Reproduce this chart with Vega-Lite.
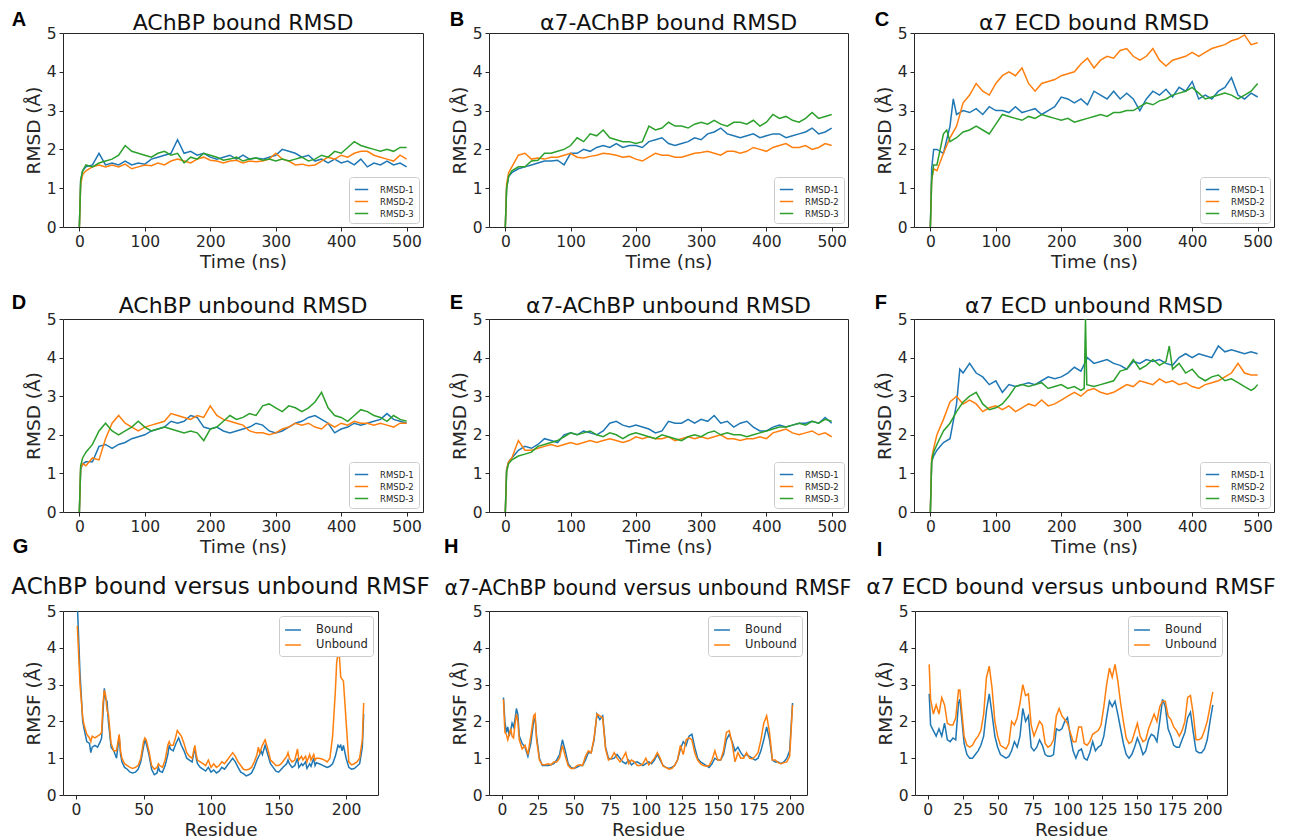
{
"$schema":"https://vega.github.io/schema/vega-lite/v6.json",
"padding":{"left":10,"top":9,"right":0,"bottom":0},
"background":"white",
"config":{
 "font":"DejaVu Sans",
 "view":{"stroke":"#262626","strokeWidth":1},
 "axis":{"domain":false,"grid":false,"ticks":true,"tickSize":4,"tickColor":"#262626","tickWidth":1,"labelFontSize":15.5,"labelColor":"#262626","labelPadding":3,"titleFontSize":18.5,"titleFontWeight":"normal","titleColor":"#262626","titlePadding":3,"labelOverlap":false,"labelFlush":false},
 "title":{"fontSize":22,"fontWeight":"normal","color":"#111111","frame":"group"},
 "legend":{"orient":"bottom-right","offset":4,"labelFontSize":8.5,"labelColor":"#262626","symbolSize":180,"symbolStrokeWidth":1.5,"symbolType":"stroke","padding":5,"rowPadding":0,"labelOffset":11,"strokeColor":"#cccccc","fillColor":"white","cornerRadius":3},
 "line":{"strokeWidth":1.5}
},
"datasets":{
"A1":[{"t":0,"v":0},{"t":2,"v":1.2},{"t":5,"v":1.45},{"t":10,"v":1.55},{"t":20,"v":1.6},{"t":30,"v":1.9},{"t":40,"v":1.6},{"t":50,"v":1.65},{"t":60,"v":1.6},{"t":70,"v":1.7},{"t":80,"v":1.6},{"t":90,"v":1.65},{"t":100,"v":1.62},{"t":110,"v":1.75},{"t":120,"v":1.8},{"t":130,"v":1.85},{"t":140,"v":1.9},{"t":150,"v":2.25},{"t":160,"v":1.9},{"t":170,"v":1.95},{"t":180,"v":1.85},{"t":190,"v":1.9},{"t":200,"v":1.8},{"t":210,"v":1.75},{"t":220,"v":1.8},{"t":230,"v":1.85},{"t":240,"v":1.75},{"t":250,"v":1.85},{"t":260,"v":1.75},{"t":270,"v":1.78},{"t":280,"v":1.75},{"t":290,"v":1.8},{"t":300,"v":1.85},{"t":310,"v":2.0},{"t":320,"v":1.95},{"t":330,"v":1.9},{"t":340,"v":1.8},{"t":350,"v":1.85},{"t":360,"v":1.7},{"t":370,"v":1.75},{"t":380,"v":1.65},{"t":390,"v":1.75},{"t":400,"v":1.65},{"t":410,"v":1.7},{"t":420,"v":1.6},{"t":430,"v":1.75},{"t":440,"v":1.55},{"t":450,"v":1.65},{"t":460,"v":1.6},{"t":470,"v":1.7},{"t":480,"v":1.6},{"t":490,"v":1.65},{"t":500,"v":1.55}],
"A2":[{"t":0,"v":0},{"t":2,"v":1.1},{"t":5,"v":1.35},{"t":10,"v":1.45},{"t":20,"v":1.55},{"t":30,"v":1.6},{"t":40,"v":1.55},{"t":50,"v":1.6},{"t":60,"v":1.55},{"t":70,"v":1.62},{"t":80,"v":1.5},{"t":90,"v":1.55},{"t":100,"v":1.6},{"t":110,"v":1.58},{"t":120,"v":1.65},{"t":130,"v":1.6},{"t":140,"v":1.7},{"t":150,"v":1.75},{"t":160,"v":1.7},{"t":170,"v":1.65},{"t":180,"v":1.75},{"t":190,"v":1.8},{"t":200,"v":1.72},{"t":210,"v":1.7},{"t":220,"v":1.65},{"t":230,"v":1.7},{"t":240,"v":1.72},{"t":250,"v":1.65},{"t":260,"v":1.7},{"t":270,"v":1.68},{"t":280,"v":1.7},{"t":290,"v":1.75},{"t":300,"v":1.9},{"t":310,"v":1.75},{"t":320,"v":1.7},{"t":330,"v":1.6},{"t":340,"v":1.62},{"t":350,"v":1.58},{"t":360,"v":1.6},{"t":370,"v":1.7},{"t":380,"v":1.8},{"t":390,"v":1.75},{"t":400,"v":1.85},{"t":410,"v":1.8},{"t":420,"v":1.9},{"t":430,"v":1.95},{"t":440,"v":1.95},{"t":450,"v":1.85},{"t":460,"v":1.8},{"t":470,"v":1.75},{"t":480,"v":1.7},{"t":490,"v":1.85},{"t":500,"v":1.75}],
"A3":[{"t":0,"v":0},{"t":2,"v":1.2},{"t":5,"v":1.45},{"t":10,"v":1.6},{"t":20,"v":1.55},{"t":30,"v":1.65},{"t":40,"v":1.7},{"t":50,"v":1.75},{"t":60,"v":1.85},{"t":70,"v":2.1},{"t":80,"v":1.95},{"t":90,"v":1.9},{"t":100,"v":1.85},{"t":110,"v":1.8},{"t":120,"v":1.9},{"t":130,"v":1.95},{"t":140,"v":1.85},{"t":150,"v":1.9},{"t":160,"v":1.65},{"t":170,"v":1.8},{"t":180,"v":1.75},{"t":190,"v":1.9},{"t":200,"v":1.85},{"t":210,"v":1.8},{"t":220,"v":1.72},{"t":230,"v":1.75},{"t":240,"v":1.8},{"t":250,"v":1.7},{"t":260,"v":1.75},{"t":270,"v":1.78},{"t":280,"v":1.72},{"t":290,"v":1.75},{"t":300,"v":1.7},{"t":310,"v":1.75},{"t":320,"v":1.7},{"t":330,"v":1.75},{"t":340,"v":1.8},{"t":350,"v":1.7},{"t":360,"v":1.75},{"t":370,"v":1.85},{"t":380,"v":1.8},{"t":390,"v":1.95},{"t":400,"v":1.9},{"t":410,"v":2.05},{"t":420,"v":2.2},{"t":430,"v":2.1},{"t":440,"v":2.05},{"t":450,"v":2.0},{"t":460,"v":1.95},{"t":470,"v":2.0},{"t":480,"v":1.95},{"t":490,"v":2.05},{"t":500,"v":2.05}],
"B1":[{"t":0,"v":0},{"t":2,"v":1.0},{"t":5,"v":1.3},{"t":10,"v":1.4},{"t":20,"v":1.5},{"t":30,"v":1.55},{"t":40,"v":1.6},{"t":50,"v":1.65},{"t":60,"v":1.7},{"t":70,"v":1.7},{"t":80,"v":1.72},{"t":90,"v":1.6},{"t":100,"v":1.9},{"t":110,"v":1.9},{"t":120,"v":2.0},{"t":130,"v":1.95},{"t":140,"v":2.05},{"t":150,"v":2.1},{"t":160,"v":2.05},{"t":170,"v":2.15},{"t":180,"v":2.05},{"t":190,"v":2.1},{"t":200,"v":2.1},{"t":210,"v":2.05},{"t":220,"v":2.2},{"t":230,"v":2.25},{"t":240,"v":2.3},{"t":250,"v":2.15},{"t":260,"v":2.1},{"t":270,"v":2.15},{"t":280,"v":2.2},{"t":290,"v":2.3},{"t":300,"v":2.25},{"t":310,"v":2.4},{"t":320,"v":2.45},{"t":330,"v":2.55},{"t":340,"v":2.4},{"t":350,"v":2.35},{"t":360,"v":2.3},{"t":370,"v":2.35},{"t":380,"v":2.4},{"t":390,"v":2.3},{"t":400,"v":2.35},{"t":410,"v":2.4},{"t":420,"v":2.4},{"t":430,"v":2.3},{"t":440,"v":2.35},{"t":450,"v":2.4},{"t":460,"v":2.45},{"t":470,"v":2.55},{"t":480,"v":2.4},{"t":490,"v":2.45},{"t":500,"v":2.55}],
"B2":[{"t":0,"v":0},{"t":2,"v":1.1},{"t":5,"v":1.4},{"t":10,"v":1.55},{"t":20,"v":1.85},{"t":30,"v":1.9},{"t":40,"v":1.75},{"t":50,"v":1.78},{"t":60,"v":1.75},{"t":70,"v":1.8},{"t":80,"v":1.8},{"t":90,"v":1.85},{"t":100,"v":1.9},{"t":110,"v":1.8},{"t":120,"v":1.78},{"t":130,"v":1.82},{"t":140,"v":1.85},{"t":150,"v":1.9},{"t":160,"v":1.88},{"t":170,"v":1.85},{"t":180,"v":1.8},{"t":190,"v":1.82},{"t":200,"v":1.75},{"t":210,"v":1.7},{"t":220,"v":1.8},{"t":230,"v":1.9},{"t":240,"v":1.85},{"t":250,"v":1.85},{"t":260,"v":1.8},{"t":270,"v":1.8},{"t":280,"v":1.85},{"t":290,"v":1.9},{"t":300,"v":1.92},{"t":310,"v":1.95},{"t":320,"v":1.9},{"t":330,"v":1.85},{"t":340,"v":1.95},{"t":350,"v":1.95},{"t":360,"v":1.9},{"t":370,"v":1.95},{"t":380,"v":2.05},{"t":390,"v":2.0},{"t":400,"v":1.95},{"t":410,"v":2.05},{"t":420,"v":2.1},{"t":430,"v":2.15},{"t":440,"v":2.05},{"t":450,"v":2.05},{"t":460,"v":2.1},{"t":470,"v":2.0},{"t":480,"v":2.05},{"t":490,"v":2.15},{"t":500,"v":2.1}],
"B3":[{"t":0,"v":0},{"t":2,"v":1.0},{"t":5,"v":1.3},{"t":10,"v":1.45},{"t":20,"v":1.55},{"t":30,"v":1.55},{"t":40,"v":1.7},{"t":50,"v":1.72},{"t":60,"v":1.9},{"t":70,"v":1.9},{"t":80,"v":1.95},{"t":90,"v":2.0},{"t":100,"v":2.1},{"t":110,"v":2.3},{"t":120,"v":2.2},{"t":130,"v":2.4},{"t":140,"v":2.35},{"t":150,"v":2.5},{"t":160,"v":2.3},{"t":170,"v":2.25},{"t":180,"v":2.2},{"t":190,"v":2.2},{"t":200,"v":2.15},{"t":210,"v":2.2},{"t":220,"v":2.6},{"t":230,"v":2.5},{"t":240,"v":2.55},{"t":250,"v":2.7},{"t":260,"v":2.6},{"t":270,"v":2.6},{"t":280,"v":2.55},{"t":290,"v":2.65},{"t":300,"v":2.7},{"t":310,"v":2.65},{"t":320,"v":2.75},{"t":330,"v":2.65},{"t":340,"v":2.6},{"t":350,"v":2.7},{"t":360,"v":2.7},{"t":370,"v":2.65},{"t":380,"v":2.75},{"t":390,"v":2.6},{"t":400,"v":2.7},{"t":410,"v":2.9},{"t":420,"v":2.8},{"t":430,"v":2.85},{"t":440,"v":2.75},{"t":450,"v":2.7},{"t":460,"v":2.8},{"t":470,"v":2.95},{"t":480,"v":2.8},{"t":490,"v":2.85},{"t":500,"v":2.9}],
"C1":[{"t":0,"v":0},{"t":2,"v":1.5},{"t":5,"v":2.0},{"t":10,"v":2.0},{"t":20,"v":1.9},{"t":30,"v":2.6},{"t":35,"v":3.3},{"t":40,"v":2.9},{"t":50,"v":3.0},{"t":60,"v":2.95},{"t":70,"v":3.05},{"t":80,"v":2.9},{"t":90,"v":3.1},{"t":100,"v":3.0},{"t":110,"v":3.0},{"t":120,"v":2.95},{"t":130,"v":3.1},{"t":140,"v":2.95},{"t":150,"v":3.0},{"t":160,"v":3.05},{"t":170,"v":2.9},{"t":180,"v":3.0},{"t":190,"v":3.1},{"t":200,"v":3.35},{"t":210,"v":3.3},{"t":220,"v":3.2},{"t":230,"v":3.3},{"t":240,"v":3.15},{"t":250,"v":3.5},{"t":260,"v":3.4},{"t":270,"v":3.3},{"t":280,"v":3.5},{"t":290,"v":3.3},{"t":300,"v":3.45},{"t":310,"v":3.3},{"t":320,"v":3.0},{"t":330,"v":3.3},{"t":340,"v":3.5},{"t":350,"v":3.4},{"t":360,"v":3.55},{"t":370,"v":3.35},{"t":380,"v":3.6},{"t":390,"v":3.5},{"t":400,"v":3.75},{"t":410,"v":3.3},{"t":420,"v":3.4},{"t":430,"v":3.3},{"t":440,"v":3.5},{"t":450,"v":3.6},{"t":460,"v":3.85},{"t":470,"v":3.4},{"t":480,"v":3.3},{"t":490,"v":3.45},{"t":500,"v":3.35}],
"C2":[{"t":0,"v":0},{"t":2,"v":1.2},{"t":5,"v":1.5},{"t":10,"v":1.45},{"t":20,"v":1.9},{"t":30,"v":2.3},{"t":40,"v":2.6},{"t":50,"v":3.2},{"t":60,"v":3.4},{"t":70,"v":3.7},{"t":80,"v":3.5},{"t":90,"v":3.4},{"t":100,"v":3.7},{"t":110,"v":3.9},{"t":120,"v":4.0},{"t":130,"v":3.9},{"t":140,"v":4.1},{"t":150,"v":3.7},{"t":160,"v":3.5},{"t":170,"v":3.7},{"t":180,"v":3.75},{"t":190,"v":3.8},{"t":200,"v":3.9},{"t":210,"v":3.95},{"t":220,"v":4.0},{"t":230,"v":4.2},{"t":240,"v":4.35},{"t":250,"v":4.1},{"t":260,"v":4.3},{"t":270,"v":4.4},{"t":280,"v":4.35},{"t":290,"v":4.55},{"t":300,"v":4.6},{"t":310,"v":4.4},{"t":320,"v":4.3},{"t":330,"v":4.4},{"t":340,"v":4.6},{"t":350,"v":4.3},{"t":360,"v":4.15},{"t":370,"v":4.3},{"t":380,"v":4.35},{"t":390,"v":4.4},{"t":400,"v":4.5},{"t":410,"v":4.4},{"t":420,"v":4.5},{"t":430,"v":4.6},{"t":440,"v":4.65},{"t":450,"v":4.7},{"t":460,"v":4.8},{"t":470,"v":4.85},{"t":480,"v":4.95},{"t":490,"v":4.7},{"t":500,"v":4.75}],
"C3":[{"t":0,"v":0},{"t":2,"v":1.2},{"t":5,"v":1.6},{"t":10,"v":1.6},{"t":20,"v":2.4},{"t":25,"v":2.5},{"t":30,"v":2.2},{"t":40,"v":2.3},{"t":50,"v":2.45},{"t":60,"v":2.5},{"t":70,"v":2.6},{"t":80,"v":2.5},{"t":90,"v":2.4},{"t":100,"v":2.65},{"t":110,"v":2.9},{"t":120,"v":2.85},{"t":130,"v":2.8},{"t":140,"v":2.75},{"t":150,"v":2.85},{"t":160,"v":2.8},{"t":170,"v":2.9},{"t":180,"v":2.85},{"t":190,"v":2.8},{"t":200,"v":2.75},{"t":210,"v":2.8},{"t":220,"v":2.7},{"t":230,"v":2.75},{"t":240,"v":2.8},{"t":250,"v":2.85},{"t":260,"v":2.9},{"t":270,"v":2.85},{"t":280,"v":2.95},{"t":290,"v":2.95},{"t":300,"v":3.0},{"t":310,"v":3.0},{"t":320,"v":3.1},{"t":330,"v":3.2},{"t":340,"v":3.15},{"t":350,"v":3.25},{"t":360,"v":3.3},{"t":370,"v":3.4},{"t":380,"v":3.45},{"t":390,"v":3.5},{"t":400,"v":3.6},{"t":410,"v":3.45},{"t":420,"v":3.3},{"t":430,"v":3.35},{"t":440,"v":3.4},{"t":450,"v":3.45},{"t":460,"v":3.4},{"t":470,"v":3.3},{"t":480,"v":3.4},{"t":490,"v":3.5},{"t":500,"v":3.7}],
"D1":[{"t":0,"v":0},{"t":2,"v":1.1},{"t":5,"v":1.25},{"t":10,"v":1.3},{"t":20,"v":1.3},{"t":30,"v":1.7},{"t":40,"v":1.75},{"t":50,"v":1.65},{"t":60,"v":1.75},{"t":70,"v":1.8},{"t":80,"v":1.9},{"t":90,"v":1.95},{"t":100,"v":2.0},{"t":110,"v":2.1},{"t":120,"v":2.15},{"t":130,"v":2.2},{"t":140,"v":2.35},{"t":150,"v":2.3},{"t":160,"v":2.35},{"t":170,"v":2.5},{"t":180,"v":2.45},{"t":190,"v":2.2},{"t":200,"v":2.15},{"t":210,"v":2.2},{"t":220,"v":2.1},{"t":230,"v":2.05},{"t":240,"v":2.1},{"t":250,"v":2.15},{"t":260,"v":2.2},{"t":270,"v":2.3},{"t":280,"v":2.25},{"t":290,"v":2.1},{"t":300,"v":2.05},{"t":310,"v":2.1},{"t":320,"v":2.2},{"t":330,"v":2.3},{"t":340,"v":2.35},{"t":350,"v":2.45},{"t":360,"v":2.5},{"t":370,"v":2.4},{"t":380,"v":2.3},{"t":390,"v":2.05},{"t":400,"v":2.15},{"t":410,"v":2.2},{"t":420,"v":2.3},{"t":430,"v":2.25},{"t":440,"v":2.3},{"t":450,"v":2.35},{"t":460,"v":2.4},{"t":470,"v":2.55},{"t":480,"v":2.4},{"t":490,"v":2.35},{"t":500,"v":2.3}],
"D2":[{"t":0,"v":0},{"t":2,"v":1.15},{"t":5,"v":1.25},{"t":10,"v":1.2},{"t":20,"v":1.4},{"t":30,"v":1.35},{"t":40,"v":1.9},{"t":50,"v":2.3},{"t":60,"v":2.5},{"t":70,"v":2.3},{"t":80,"v":2.2},{"t":90,"v":2.1},{"t":100,"v":2.2},{"t":110,"v":2.25},{"t":120,"v":2.3},{"t":130,"v":2.35},{"t":140,"v":2.55},{"t":150,"v":2.5},{"t":160,"v":2.45},{"t":170,"v":2.4},{"t":180,"v":2.5},{"t":190,"v":2.45},{"t":200,"v":2.75},{"t":210,"v":2.5},{"t":220,"v":2.4},{"t":230,"v":2.35},{"t":240,"v":2.3},{"t":250,"v":2.25},{"t":260,"v":2.1},{"t":270,"v":2.05},{"t":280,"v":2.05},{"t":290,"v":2.0},{"t":300,"v":2.05},{"t":310,"v":2.15},{"t":320,"v":2.2},{"t":330,"v":2.3},{"t":340,"v":2.25},{"t":350,"v":2.3},{"t":360,"v":2.2},{"t":370,"v":2.15},{"t":380,"v":2.3},{"t":390,"v":2.2},{"t":400,"v":2.3},{"t":410,"v":2.25},{"t":420,"v":2.35},{"t":430,"v":2.3},{"t":440,"v":2.3},{"t":450,"v":2.25},{"t":460,"v":2.3},{"t":470,"v":2.25},{"t":480,"v":2.2},{"t":490,"v":2.3},{"t":500,"v":2.3}],
"D3":[{"t":0,"v":0},{"t":2,"v":1.2},{"t":5,"v":1.4},{"t":10,"v":1.55},{"t":20,"v":1.75},{"t":30,"v":2.1},{"t":40,"v":2.3},{"t":50,"v":2.1},{"t":60,"v":2.0},{"t":70,"v":2.1},{"t":80,"v":2.2},{"t":90,"v":2.35},{"t":100,"v":2.2},{"t":110,"v":2.1},{"t":120,"v":2.15},{"t":130,"v":2.2},{"t":140,"v":2.15},{"t":150,"v":2.1},{"t":160,"v":2.05},{"t":170,"v":2.1},{"t":180,"v":2.05},{"t":190,"v":1.85},{"t":200,"v":2.15},{"t":210,"v":2.2},{"t":220,"v":2.35},{"t":230,"v":2.5},{"t":240,"v":2.4},{"t":250,"v":2.45},{"t":260,"v":2.55},{"t":270,"v":2.5},{"t":280,"v":2.75},{"t":290,"v":2.8},{"t":300,"v":2.7},{"t":310,"v":2.6},{"t":320,"v":2.75},{"t":330,"v":2.7},{"t":340,"v":2.6},{"t":350,"v":2.7},{"t":360,"v":2.85},{"t":370,"v":3.1},{"t":380,"v":2.7},{"t":390,"v":2.5},{"t":400,"v":2.45},{"t":410,"v":2.35},{"t":420,"v":2.5},{"t":430,"v":2.65},{"t":440,"v":2.6},{"t":450,"v":2.5},{"t":460,"v":2.45},{"t":470,"v":2.35},{"t":480,"v":2.5},{"t":490,"v":2.4},{"t":500,"v":2.35}],
"E1":[{"t":0,"v":0},{"t":2,"v":1.1},{"t":5,"v":1.3},{"t":10,"v":1.4},{"t":20,"v":1.6},{"t":30,"v":1.7},{"t":40,"v":1.65},{"t":50,"v":1.75},{"t":60,"v":1.9},{"t":70,"v":1.85},{"t":80,"v":1.8},{"t":90,"v":2.0},{"t":100,"v":2.05},{"t":110,"v":2.0},{"t":120,"v":2.1},{"t":130,"v":2.05},{"t":140,"v":2.0},{"t":150,"v":2.1},{"t":160,"v":2.3},{"t":170,"v":2.35},{"t":180,"v":2.25},{"t":190,"v":2.2},{"t":200,"v":2.25},{"t":210,"v":2.2},{"t":220,"v":2.15},{"t":230,"v":2.05},{"t":240,"v":2.1},{"t":250,"v":2.35},{"t":260,"v":2.3},{"t":270,"v":2.3},{"t":280,"v":2.4},{"t":290,"v":2.3},{"t":300,"v":2.4},{"t":310,"v":2.35},{"t":320,"v":2.5},{"t":330,"v":2.3},{"t":340,"v":2.35},{"t":350,"v":2.2},{"t":360,"v":2.3},{"t":370,"v":2.35},{"t":380,"v":2.2},{"t":390,"v":2.1},{"t":400,"v":2.1},{"t":410,"v":2.2},{"t":420,"v":2.25},{"t":430,"v":2.2},{"t":440,"v":2.25},{"t":450,"v":2.3},{"t":460,"v":2.3},{"t":470,"v":2.35},{"t":480,"v":2.3},{"t":490,"v":2.45},{"t":500,"v":2.3}],
"E2":[{"t":0,"v":0},{"t":2,"v":1.1},{"t":5,"v":1.3},{"t":10,"v":1.4},{"t":20,"v":1.85},{"t":30,"v":1.6},{"t":40,"v":1.6},{"t":50,"v":1.65},{"t":60,"v":1.7},{"t":70,"v":1.75},{"t":80,"v":1.7},{"t":90,"v":1.75},{"t":100,"v":1.8},{"t":110,"v":1.75},{"t":120,"v":1.8},{"t":130,"v":1.85},{"t":140,"v":1.8},{"t":150,"v":1.85},{"t":160,"v":1.9},{"t":170,"v":1.85},{"t":180,"v":1.8},{"t":190,"v":1.85},{"t":200,"v":1.95},{"t":210,"v":1.9},{"t":220,"v":1.95},{"t":230,"v":1.9},{"t":240,"v":1.9},{"t":250,"v":1.95},{"t":260,"v":1.85},{"t":270,"v":1.9},{"t":280,"v":1.95},{"t":290,"v":1.9},{"t":300,"v":1.95},{"t":310,"v":1.9},{"t":320,"v":1.95},{"t":330,"v":2.0},{"t":340,"v":1.9},{"t":350,"v":1.9},{"t":360,"v":1.85},{"t":370,"v":1.9},{"t":380,"v":1.9},{"t":390,"v":1.95},{"t":400,"v":1.9},{"t":410,"v":2.05},{"t":420,"v":2.1},{"t":430,"v":2.15},{"t":440,"v":2.05},{"t":450,"v":2.0},{"t":460,"v":2.05},{"t":470,"v":2.1},{"t":480,"v":2.0},{"t":490,"v":2.05},{"t":500,"v":1.95}],
"E3":[{"t":0,"v":0},{"t":2,"v":1.05},{"t":5,"v":1.25},{"t":10,"v":1.35},{"t":20,"v":1.45},{"t":30,"v":1.5},{"t":40,"v":1.55},{"t":50,"v":1.7},{"t":60,"v":1.75},{"t":70,"v":1.8},{"t":80,"v":1.85},{"t":90,"v":1.95},{"t":100,"v":2.05},{"t":110,"v":2.0},{"t":120,"v":2.05},{"t":130,"v":2.1},{"t":140,"v":2.0},{"t":150,"v":1.95},{"t":160,"v":2.05},{"t":170,"v":2.0},{"t":180,"v":1.9},{"t":190,"v":2.0},{"t":200,"v":2.05},{"t":210,"v":2.0},{"t":220,"v":1.95},{"t":230,"v":1.9},{"t":240,"v":2.0},{"t":250,"v":1.95},{"t":260,"v":1.9},{"t":270,"v":1.85},{"t":280,"v":1.95},{"t":290,"v":2.0},{"t":300,"v":1.95},{"t":310,"v":2.05},{"t":320,"v":2.1},{"t":330,"v":2.0},{"t":340,"v":2.05},{"t":350,"v":2.0},{"t":360,"v":2.0},{"t":370,"v":1.95},{"t":380,"v":2.0},{"t":390,"v":2.05},{"t":400,"v":2.1},{"t":410,"v":2.15},{"t":420,"v":2.2},{"t":430,"v":2.2},{"t":440,"v":2.25},{"t":450,"v":2.3},{"t":460,"v":2.25},{"t":470,"v":2.35},{"t":480,"v":2.3},{"t":490,"v":2.4},{"t":500,"v":2.35}],
"F1":[{"t":0,"v":0},{"t":2,"v":1.3},{"t":5,"v":1.45},{"t":10,"v":1.6},{"t":20,"v":1.8},{"t":30,"v":1.9},{"t":40,"v":2.8},{"t":45,"v":3.7},{"t":50,"v":3.6},{"t":60,"v":3.85},{"t":70,"v":3.6},{"t":80,"v":3.5},{"t":90,"v":3.3},{"t":100,"v":3.4},{"t":110,"v":3.1},{"t":120,"v":3.3},{"t":130,"v":3.25},{"t":140,"v":3.3},{"t":150,"v":3.35},{"t":160,"v":3.3},{"t":170,"v":3.4},{"t":180,"v":3.5},{"t":190,"v":3.45},{"t":200,"v":3.5},{"t":210,"v":3.6},{"t":220,"v":3.75},{"t":230,"v":3.65},{"t":240,"v":4.0},{"t":250,"v":3.85},{"t":260,"v":3.9},{"t":270,"v":3.95},{"t":280,"v":3.85},{"t":290,"v":3.8},{"t":300,"v":3.7},{"t":310,"v":3.9},{"t":320,"v":3.85},{"t":330,"v":3.95},{"t":340,"v":3.9},{"t":350,"v":3.95},{"t":360,"v":3.85},{"t":370,"v":3.8},{"t":380,"v":4.0},{"t":390,"v":4.1},{"t":400,"v":4.0},{"t":410,"v":4.1},{"t":420,"v":4.05},{"t":430,"v":4.0},{"t":440,"v":4.3},{"t":450,"v":4.15},{"t":460,"v":4.2},{"t":470,"v":4.15},{"t":480,"v":4.1},{"t":490,"v":4.15},{"t":500,"v":4.1}],
"F2":[{"t":0,"v":0},{"t":2,"v":1.4},{"t":5,"v":1.65},{"t":10,"v":2.0},{"t":20,"v":2.4},{"t":30,"v":2.85},{"t":40,"v":3.0},{"t":50,"v":2.8},{"t":60,"v":2.9},{"t":70,"v":2.8},{"t":80,"v":2.6},{"t":90,"v":2.7},{"t":100,"v":2.75},{"t":110,"v":2.65},{"t":120,"v":2.75},{"t":130,"v":2.6},{"t":140,"v":2.7},{"t":150,"v":2.8},{"t":160,"v":2.75},{"t":170,"v":2.9},{"t":180,"v":2.75},{"t":190,"v":2.8},{"t":200,"v":2.9},{"t":210,"v":3.0},{"t":220,"v":3.1},{"t":230,"v":3.0},{"t":240,"v":3.15},{"t":250,"v":3.2},{"t":260,"v":3.1},{"t":270,"v":3.05},{"t":280,"v":3.1},{"t":290,"v":3.2},{"t":300,"v":3.3},{"t":310,"v":3.25},{"t":320,"v":3.4},{"t":330,"v":3.35},{"t":340,"v":3.3},{"t":350,"v":3.45},{"t":360,"v":3.35},{"t":370,"v":3.4},{"t":380,"v":3.3},{"t":390,"v":3.35},{"t":400,"v":3.25},{"t":410,"v":3.2},{"t":420,"v":3.3},{"t":430,"v":3.35},{"t":440,"v":3.4},{"t":450,"v":3.5},{"t":460,"v":3.6},{"t":470,"v":3.85},{"t":480,"v":3.6},{"t":490,"v":3.55},{"t":500,"v":3.55}],
"F3":[{"t":0,"v":0},{"t":2,"v":1.3},{"t":5,"v":1.55},{"t":10,"v":1.75},{"t":20,"v":2.1},{"t":30,"v":2.3},{"t":40,"v":2.6},{"t":50,"v":2.85},{"t":60,"v":3.0},{"t":70,"v":3.1},{"t":80,"v":2.8},{"t":90,"v":2.65},{"t":100,"v":2.7},{"t":110,"v":2.8},{"t":120,"v":3.0},{"t":130,"v":3.25},{"t":140,"v":3.3},{"t":150,"v":3.25},{"t":160,"v":3.3},{"t":170,"v":3.35},{"t":180,"v":3.2},{"t":190,"v":3.25},{"t":200,"v":3.3},{"t":210,"v":3.2},{"t":220,"v":3.25},{"t":230,"v":3.15},{"t":235,"v":3.2},{"t":237,"v":5.0},{"t":239,"v":3.3},{"t":250,"v":3.25},{"t":260,"v":3.3},{"t":270,"v":3.35},{"t":280,"v":3.4},{"t":290,"v":3.65},{"t":300,"v":3.7},{"t":310,"v":3.95},{"t":320,"v":3.7},{"t":330,"v":3.8},{"t":340,"v":3.95},{"t":350,"v":3.8},{"t":360,"v":3.9},{"t":365,"v":4.3},{"t":370,"v":3.7},{"t":380,"v":3.85},{"t":390,"v":3.6},{"t":400,"v":3.7},{"t":410,"v":3.5},{"t":420,"v":3.4},{"t":430,"v":3.5},{"t":440,"v":3.55},{"t":450,"v":3.4},{"t":460,"v":3.45},{"t":470,"v":3.35},{"t":480,"v":3.25},{"t":490,"v":3.15},{"t":495,"v":3.2},{"t":500,"v":3.3}],
"G1":[{"r":1,"v":5.2},{"r":3,"v":3.3},{"r":5,"v":2.0},{"r":6,"v":1.8},{"r":8,"v":1.45},{"r":10,"v":1.4},{"r":11,"v":1.15},{"r":12,"v":1.3},{"r":14,"v":1.35},{"r":16,"v":1.3},{"r":18,"v":1.45},{"r":19,"v":1.55},{"r":21,"v":2.9},{"r":22,"v":2.6},{"r":23,"v":2.55},{"r":24,"v":2.0},{"r":26,"v":1.3},{"r":28,"v":1.2},{"r":30,"v":1.0},{"r":32,"v":1.6},{"r":33,"v":1.1},{"r":34,"v":0.9},{"r":36,"v":0.75},{"r":38,"v":0.7},{"r":40,"v":0.62},{"r":42,"v":0.6},{"r":44,"v":0.62},{"r":46,"v":0.7},{"r":48,"v":0.9},{"r":50,"v":1.3},{"r":51,"v":1.5},{"r":52,"v":1.4},{"r":54,"v":1.1},{"r":56,"v":0.7},{"r":58,"v":0.55},{"r":60,"v":0.6},{"r":61,"v":0.75},{"r":62,"v":0.65},{"r":64,"v":0.62},{"r":66,"v":0.8},{"r":68,"v":1.1},{"r":69,"v":1.35},{"r":70,"v":1.25},{"r":72,"v":1.2},{"r":74,"v":1.4},{"r":76,"v":1.55},{"r":78,"v":1.35},{"r":80,"v":1.2},{"r":82,"v":1.0},{"r":84,"v":0.95},{"r":86,"v":0.9},{"r":88,"v":1.3},{"r":89,"v":1.0},{"r":90,"v":0.85},{"r":92,"v":0.75},{"r":94,"v":0.7},{"r":96,"v":0.65},{"r":98,"v":0.75},{"r":100,"v":0.62},{"r":102,"v":0.68},{"r":104,"v":0.6},{"r":106,"v":0.65},{"r":108,"v":0.75},{"r":110,"v":0.7},{"r":112,"v":0.8},{"r":114,"v":0.9},{"r":116,"v":1.0},{"r":118,"v":0.9},{"r":120,"v":0.75},{"r":122,"v":0.62},{"r":124,"v":0.58},{"r":126,"v":0.52},{"r":128,"v":0.55},{"r":130,"v":0.6},{"r":132,"v":0.75},{"r":134,"v":0.95},{"r":136,"v":1.1},{"r":137,"v":1.2},{"r":138,"v":1.1},{"r":140,"v":1.35},{"r":142,"v":1.1},{"r":144,"v":0.85},{"r":146,"v":0.75},{"r":148,"v":0.65},{"r":150,"v":0.62},{"r":152,"v":0.7},{"r":154,"v":0.78},{"r":156,"v":0.85},{"r":157,"v":0.95},{"r":158,"v":0.85},{"r":160,"v":0.75},{"r":162,"v":0.8},{"r":164,"v":1.0},{"r":165,"v":0.75},{"r":167,"v":0.85},{"r":168,"v":0.8},{"r":170,"v":0.9},{"r":171,"v":0.72},{"r":173,"v":0.85},{"r":174,"v":0.78},{"r":176,"v":1.0},{"r":177,"v":0.8},{"r":178,"v":0.88},{"r":180,"v":0.85},{"r":182,"v":0.82},{"r":184,"v":0.78},{"r":186,"v":0.75},{"r":188,"v":0.78},{"r":190,"v":0.85},{"r":192,"v":1.05},{"r":194,"v":1.35},{"r":195,"v":1.3},{"r":196,"v":1.35},{"r":197,"v":1.2},{"r":198,"v":1.35},{"r":200,"v":1.0},{"r":202,"v":0.75},{"r":204,"v":0.7},{"r":206,"v":0.72},{"r":208,"v":0.78},{"r":210,"v":0.85},{"r":212,"v":1.3},{"r":213,"v":2.2}],
"G2":[{"r":1,"v":4.6},{"r":3,"v":3.0},{"r":5,"v":2.1},{"r":6,"v":1.9},{"r":8,"v":1.65},{"r":10,"v":1.55},{"r":11,"v":1.45},{"r":12,"v":1.6},{"r":14,"v":1.55},{"r":16,"v":1.6},{"r":18,"v":1.65},{"r":19,"v":1.7},{"r":20,"v":2.5},{"r":21,"v":2.85},{"r":22,"v":2.7},{"r":23,"v":2.3},{"r":24,"v":2.2},{"r":26,"v":1.4},{"r":28,"v":1.2},{"r":30,"v":1.2},{"r":32,"v":1.65},{"r":33,"v":1.2},{"r":34,"v":1.0},{"r":36,"v":0.85},{"r":38,"v":0.8},{"r":40,"v":0.75},{"r":42,"v":0.72},{"r":44,"v":0.75},{"r":46,"v":0.8},{"r":48,"v":1.0},{"r":50,"v":1.45},{"r":51,"v":1.55},{"r":52,"v":1.5},{"r":54,"v":1.2},{"r":56,"v":0.8},{"r":58,"v":0.7},{"r":60,"v":0.75},{"r":61,"v":0.85},{"r":62,"v":0.8},{"r":64,"v":0.75},{"r":66,"v":0.95},{"r":68,"v":1.35},{"r":69,"v":1.45},{"r":70,"v":1.35},{"r":72,"v":1.35},{"r":74,"v":1.6},{"r":75,"v":1.75},{"r":76,"v":1.7},{"r":78,"v":1.6},{"r":80,"v":1.4},{"r":82,"v":1.15},{"r":84,"v":1.05},{"r":86,"v":1.0},{"r":88,"v":1.35},{"r":89,"v":1.1},{"r":90,"v":0.95},{"r":92,"v":0.9},{"r":94,"v":0.85},{"r":96,"v":0.8},{"r":98,"v":0.95},{"r":100,"v":0.75},{"r":102,"v":0.85},{"r":104,"v":0.75},{"r":106,"v":0.8},{"r":108,"v":0.9},{"r":110,"v":0.85},{"r":112,"v":0.95},{"r":114,"v":1.05},{"r":116,"v":1.15},{"r":118,"v":1.05},{"r":120,"v":0.9},{"r":122,"v":0.8},{"r":124,"v":0.7},{"r":126,"v":0.68},{"r":128,"v":0.7},{"r":130,"v":0.75},{"r":132,"v":0.9},{"r":134,"v":1.1},{"r":135,"v":1.3},{"r":136,"v":1.15},{"r":138,"v":1.35},{"r":140,"v":1.5},{"r":142,"v":1.25},{"r":144,"v":0.95},{"r":146,"v":0.88},{"r":148,"v":0.8},{"r":150,"v":0.8},{"r":152,"v":0.85},{"r":154,"v":0.95},{"r":156,"v":1.05},{"r":157,"v":1.15},{"r":158,"v":1.0},{"r":160,"v":0.9},{"r":162,"v":0.95},{"r":164,"v":1.25},{"r":165,"v":0.95},{"r":167,"v":1.05},{"r":168,"v":0.95},{"r":170,"v":1.05},{"r":171,"v":0.9},{"r":173,"v":1.1},{"r":174,"v":0.95},{"r":176,"v":1.1},{"r":177,"v":0.95},{"r":178,"v":1.0},{"r":180,"v":1.0},{"r":182,"v":0.98},{"r":184,"v":0.95},{"r":186,"v":0.9},{"r":188,"v":1.0},{"r":190,"v":1.6},{"r":192,"v":2.8},{"r":193,"v":3.6},{"r":194,"v":3.85},{"r":195,"v":3.8},{"r":196,"v":3.2},{"r":197,"v":3.15},{"r":198,"v":3.1},{"r":200,"v":2.0},{"r":202,"v":0.9},{"r":204,"v":0.82},{"r":206,"v":0.85},{"r":208,"v":0.9},{"r":210,"v":1.0},{"r":212,"v":1.5},{"r":213,"v":2.5}],
"H1":[{"r":1,"v":2.65},{"r":2,"v":2.0},{"r":3,"v":1.7},{"r":4,"v":1.85},{"r":5,"v":1.6},{"r":6,"v":1.75},{"r":7,"v":1.95},{"r":8,"v":1.85},{"r":9,"v":2.05},{"r":10,"v":2.35},{"r":11,"v":2.2},{"r":12,"v":1.6},{"r":14,"v":1.4},{"r":16,"v":1.3},{"r":18,"v":1.05},{"r":20,"v":1.4},{"r":22,"v":2.0},{"r":23,"v":2.1},{"r":24,"v":1.6},{"r":26,"v":1.0},{"r":28,"v":0.8},{"r":30,"v":0.8},{"r":32,"v":0.8},{"r":34,"v":0.82},{"r":36,"v":0.85},{"r":38,"v":0.95},{"r":40,"v":1.1},{"r":42,"v":1.5},{"r":44,"v":1.2},{"r":46,"v":0.85},{"r":48,"v":0.75},{"r":50,"v":0.72},{"r":52,"v":0.75},{"r":54,"v":0.8},{"r":56,"v":0.8},{"r":58,"v":0.95},{"r":60,"v":1.15},{"r":62,"v":1.15},{"r":64,"v":1.5},{"r":66,"v":2.2},{"r":68,"v":2.05},{"r":70,"v":2.15},{"r":72,"v":1.3},{"r":74,"v":1.0},{"r":76,"v":0.98},{"r":78,"v":1.0},{"r":80,"v":1.1},{"r":82,"v":1.0},{"r":84,"v":0.9},{"r":86,"v":0.85},{"r":88,"v":0.95},{"r":90,"v":0.82},{"r":92,"v":0.88},{"r":94,"v":0.9},{"r":96,"v":0.85},{"r":98,"v":0.8},{"r":100,"v":0.85},{"r":102,"v":0.9},{"r":104,"v":0.85},{"r":106,"v":0.95},{"r":108,"v":1.1},{"r":110,"v":0.95},{"r":112,"v":0.8},{"r":114,"v":0.75},{"r":116,"v":0.72},{"r":118,"v":0.75},{"r":120,"v":0.8},{"r":122,"v":0.95},{"r":124,"v":1.25},{"r":126,"v":1.45},{"r":128,"v":1.35},{"r":130,"v":1.6},{"r":132,"v":1.65},{"r":134,"v":1.3},{"r":136,"v":1.0},{"r":138,"v":0.9},{"r":140,"v":0.85},{"r":142,"v":0.8},{"r":144,"v":0.75},{"r":146,"v":0.85},{"r":148,"v":1.0},{"r":150,"v":0.95},{"r":152,"v":0.95},{"r":154,"v":1.1},{"r":156,"v":1.5},{"r":158,"v":1.65},{"r":160,"v":1.45},{"r":162,"v":1.2},{"r":164,"v":1.3},{"r":166,"v":1.15},{"r":168,"v":1.05},{"r":170,"v":1.1},{"r":172,"v":1.05},{"r":174,"v":1.0},{"r":176,"v":0.95},{"r":178,"v":1.0},{"r":180,"v":1.2},{"r":182,"v":1.5},{"r":184,"v":1.85},{"r":186,"v":1.5},{"r":188,"v":0.95},{"r":190,"v":0.9},{"r":192,"v":0.9},{"r":194,"v":0.85},{"r":196,"v":0.9},{"r":198,"v":1.0},{"r":200,"v":1.2},{"r":202,"v":2.5}],
"H2":[{"r":1,"v":2.6},{"r":2,"v":1.7},{"r":3,"v":1.65},{"r":4,"v":1.5},{"r":5,"v":1.65},{"r":6,"v":1.8},{"r":7,"v":1.6},{"r":8,"v":1.55},{"r":9,"v":1.9},{"r":10,"v":2.2},{"r":11,"v":2.0},{"r":12,"v":1.5},{"r":14,"v":1.25},{"r":16,"v":1.35},{"r":18,"v":1.1},{"r":20,"v":1.6},{"r":22,"v":2.15},{"r":23,"v":2.2},{"r":24,"v":1.5},{"r":26,"v":0.95},{"r":28,"v":0.82},{"r":30,"v":0.82},{"r":32,"v":0.85},{"r":34,"v":0.82},{"r":36,"v":0.9},{"r":38,"v":0.9},{"r":40,"v":1.0},{"r":42,"v":1.35},{"r":44,"v":1.05},{"r":46,"v":0.8},{"r":48,"v":0.72},{"r":50,"v":0.72},{"r":52,"v":0.8},{"r":54,"v":0.82},{"r":56,"v":0.8},{"r":58,"v":1.05},{"r":60,"v":1.2},{"r":62,"v":1.15},{"r":64,"v":1.55},{"r":66,"v":2.2},{"r":68,"v":2.15},{"r":70,"v":2.1},{"r":72,"v":1.25},{"r":74,"v":0.95},{"r":76,"v":1.0},{"r":78,"v":1.15},{"r":80,"v":1.0},{"r":82,"v":0.9},{"r":84,"v":1.0},{"r":86,"v":1.15},{"r":88,"v":0.85},{"r":90,"v":0.95},{"r":92,"v":0.9},{"r":94,"v":0.8},{"r":96,"v":0.8},{"r":98,"v":0.85},{"r":100,"v":1.0},{"r":102,"v":0.82},{"r":104,"v":0.9},{"r":106,"v":1.0},{"r":108,"v":1.15},{"r":110,"v":1.0},{"r":112,"v":0.78},{"r":114,"v":0.75},{"r":116,"v":0.7},{"r":118,"v":0.72},{"r":120,"v":0.8},{"r":122,"v":0.95},{"r":124,"v":1.35},{"r":126,"v":1.1},{"r":128,"v":1.5},{"r":130,"v":1.55},{"r":132,"v":1.5},{"r":134,"v":1.15},{"r":136,"v":0.95},{"r":138,"v":0.85},{"r":140,"v":0.8},{"r":142,"v":0.78},{"r":144,"v":0.8},{"r":146,"v":0.95},{"r":148,"v":1.2},{"r":150,"v":0.95},{"r":152,"v":0.95},{"r":154,"v":1.2},{"r":156,"v":1.7},{"r":158,"v":1.75},{"r":160,"v":1.4},{"r":162,"v":0.9},{"r":164,"v":1.15},{"r":166,"v":1.0},{"r":168,"v":1.0},{"r":170,"v":1.15},{"r":172,"v":1.0},{"r":174,"v":0.98},{"r":176,"v":1.05},{"r":178,"v":1.15},{"r":180,"v":1.5},{"r":182,"v":1.95},{"r":184,"v":2.15},{"r":186,"v":1.7},{"r":188,"v":0.95},{"r":190,"v":0.95},{"r":192,"v":0.88},{"r":194,"v":0.85},{"r":196,"v":0.88},{"r":198,"v":0.9},{"r":200,"v":1.05},{"r":202,"v":2.45}],
"I1":[{"r":1,"v":2.75},{"r":2,"v":1.9},{"r":4,"v":1.75},{"r":6,"v":1.6},{"r":8,"v":1.8},{"r":10,"v":1.6},{"r":12,"v":1.95},{"r":14,"v":1.5},{"r":16,"v":1.45},{"r":18,"v":1.55},{"r":20,"v":1.5},{"r":22,"v":2.5},{"r":23,"v":2.6},{"r":24,"v":2.2},{"r":26,"v":1.4},{"r":28,"v":1.1},{"r":30,"v":1.0},{"r":32,"v":1.0},{"r":34,"v":1.1},{"r":36,"v":1.2},{"r":38,"v":1.35},{"r":40,"v":1.6},{"r":42,"v":2.3},{"r":44,"v":2.75},{"r":46,"v":2.2},{"r":48,"v":1.6},{"r":50,"v":1.3},{"r":52,"v":1.1},{"r":54,"v":1.05},{"r":56,"v":1.0},{"r":58,"v":1.05},{"r":60,"v":1.2},{"r":62,"v":1.45},{"r":64,"v":1.3},{"r":66,"v":1.6},{"r":68,"v":2.35},{"r":70,"v":2.0},{"r":72,"v":2.15},{"r":74,"v":1.3},{"r":76,"v":1.2},{"r":78,"v":1.3},{"r":80,"v":1.5},{"r":82,"v":1.35},{"r":84,"v":1.1},{"r":86,"v":1.05},{"r":88,"v":1.05},{"r":90,"v":1.1},{"r":92,"v":1.8},{"r":94,"v":1.75},{"r":96,"v":1.8},{"r":98,"v":2.0},{"r":100,"v":2.1},{"r":102,"v":1.6},{"r":104,"v":1.2},{"r":106,"v":1.0},{"r":108,"v":1.2},{"r":110,"v":1.25},{"r":112,"v":1.0},{"r":114,"v":0.95},{"r":116,"v":1.15},{"r":118,"v":1.45},{"r":120,"v":1.2},{"r":122,"v":1.3},{"r":124,"v":1.35},{"r":126,"v":1.6},{"r":128,"v":2.1},{"r":130,"v":2.55},{"r":132,"v":2.4},{"r":134,"v":2.55},{"r":136,"v":2.2},{"r":138,"v":1.8},{"r":140,"v":1.4},{"r":142,"v":1.1},{"r":144,"v":1.0},{"r":146,"v":1.1},{"r":148,"v":1.3},{"r":150,"v":1.55},{"r":152,"v":1.35},{"r":154,"v":1.1},{"r":156,"v":1.2},{"r":158,"v":1.5},{"r":160,"v":1.65},{"r":162,"v":1.6},{"r":164,"v":1.45},{"r":166,"v":2.0},{"r":168,"v":2.6},{"r":170,"v":2.4},{"r":172,"v":1.8},{"r":174,"v":1.6},{"r":176,"v":1.35},{"r":178,"v":1.3},{"r":180,"v":1.3},{"r":182,"v":1.5},{"r":184,"v":1.7},{"r":186,"v":2.1},{"r":188,"v":2.25},{"r":190,"v":1.7},{"r":192,"v":1.2},{"r":194,"v":1.15},{"r":196,"v":1.15},{"r":198,"v":1.25},{"r":200,"v":1.5},{"r":202,"v":2.0},{"r":204,"v":2.45}],
"I2":[{"r":1,"v":3.55},{"r":2,"v":2.6},{"r":4,"v":2.2},{"r":6,"v":2.45},{"r":8,"v":2.2},{"r":10,"v":2.65},{"r":12,"v":2.45},{"r":14,"v":1.95},{"r":16,"v":1.9},{"r":18,"v":1.9},{"r":20,"v":2.1},{"r":22,"v":2.85},{"r":23,"v":2.85},{"r":24,"v":2.4},{"r":26,"v":1.6},{"r":28,"v":1.35},{"r":30,"v":1.3},{"r":32,"v":1.35},{"r":34,"v":1.5},{"r":36,"v":1.6},{"r":38,"v":1.75},{"r":40,"v":2.2},{"r":42,"v":3.2},{"r":44,"v":3.5},{"r":46,"v":2.9},{"r":48,"v":2.0},{"r":50,"v":1.6},{"r":52,"v":1.35},{"r":54,"v":1.3},{"r":56,"v":1.25},{"r":58,"v":1.4},{"r":60,"v":2.0},{"r":62,"v":1.9},{"r":64,"v":2.1},{"r":66,"v":2.5},{"r":68,"v":3.0},{"r":70,"v":2.7},{"r":72,"v":2.75},{"r":74,"v":1.9},{"r":76,"v":1.6},{"r":78,"v":1.8},{"r":80,"v":2.0},{"r":82,"v":1.9},{"r":84,"v":1.4},{"r":86,"v":1.3},{"r":88,"v":1.35},{"r":90,"v":1.5},{"r":92,"v":2.15},{"r":94,"v":2.35},{"r":96,"v":2.15},{"r":98,"v":2.05},{"r":100,"v":1.95},{"r":102,"v":1.7},{"r":104,"v":1.45},{"r":106,"v":1.45},{"r":108,"v":1.85},{"r":110,"v":1.85},{"r":112,"v":1.4},{"r":114,"v":1.35},{"r":116,"v":1.45},{"r":118,"v":1.65},{"r":120,"v":1.7},{"r":122,"v":1.75},{"r":124,"v":1.9},{"r":126,"v":2.4},{"r":128,"v":3.0},{"r":130,"v":3.45},{"r":132,"v":3.2},{"r":134,"v":3.55},{"r":136,"v":3.1},{"r":138,"v":2.5},{"r":140,"v":2.0},{"r":142,"v":1.55},{"r":144,"v":1.4},{"r":146,"v":1.45},{"r":148,"v":1.7},{"r":150,"v":1.95},{"r":152,"v":1.6},{"r":154,"v":1.45},{"r":156,"v":1.5},{"r":158,"v":1.8},{"r":160,"v":2.0},{"r":162,"v":2.2},{"r":164,"v":2.0},{"r":166,"v":2.4},{"r":168,"v":2.55},{"r":170,"v":2.55},{"r":172,"v":2.15},{"r":174,"v":2.05},{"r":176,"v":1.85},{"r":178,"v":1.75},{"r":180,"v":1.6},{"r":182,"v":1.75},{"r":184,"v":2.0},{"r":186,"v":2.65},{"r":188,"v":2.7},{"r":190,"v":2.2},{"r":192,"v":1.5},{"r":194,"v":1.5},{"r":196,"v":1.55},{"r":198,"v":1.75},{"r":200,"v":2.0},{"r":202,"v":2.4},{"r":204,"v":2.8}]
},
"spacing":-21,
"resolve":{"scale":{"color":"independent"},"legend":{"color":"independent"}},
"vconcat":[
{"spacing":20,"resolve":{"scale":{"color":"independent"},"legend":{"color":"independent"}},
 "vconcat":[
 {"spacing":25,"resolve":{"scale":{"color":"independent"},"legend":{"color":"independent"}},
  "hconcat":[
  {"title":{"text":"A","anchor":"start","frame":"bounds","font":"Liberation Sans","fontSize":20,"fontWeight":"bold","color":"#000000","dx":-12,"dy":18,"offset":0},"resolve":{"scale":{"color":"independent"},"legend":{"color":"independent"}},
   "vconcat":[{"width":360,"height":194,"title":{"text":"AChBP bound RMSD","dy":13},
    "encoding":{"x":{"field":"t","type":"quantitative","scale":{"domain":[-25,525],"nice":false,"zero":false},"axis":{"values":[0,100,200,300,400,500],"title":"Time (ns)"}},"y":{"field":"v","type":"quantitative","scale":{"domain":[0,5],"nice":false},"axis":{"values":[0,1,2,3,4,5],"title":"RMSD (Å)"}}},
    "layer":[
     {"data":{"name":"A1"},"mark":{"type":"line","clip":true},"encoding":{"color":{"datum":"RMSD-1","type":"nominal","scale":{"domain":["RMSD-1","RMSD-2","RMSD-3"],"range":["#1f77b4","#ff7f0e","#2ca02c"]},"legend":{"title":null}}}},
     {"data":{"name":"A2"},"mark":{"type":"line","clip":true},"encoding":{"color":{"datum":"RMSD-2","type":"nominal"}}},
     {"data":{"name":"A3"},"mark":{"type":"line","clip":true},"encoding":{"color":{"datum":"RMSD-3","type":"nominal"}}}
    ]}]},
  {"title":{"text":"B","anchor":"start","frame":"bounds","font":"Liberation Sans","fontSize":20,"fontWeight":"bold","color":"#000000","dx":0,"dy":18,"offset":0},"resolve":{"scale":{"color":"independent"},"legend":{"color":"independent"}},
   "vconcat":[{"width":359,"height":194,"title":{"text":"α7-AChBP bound RMSD","dy":13},
    "encoding":{"x":{"field":"t","type":"quantitative","scale":{"domain":[-25,525],"nice":false,"zero":false},"axis":{"values":[0,100,200,300,400,500],"title":"Time (ns)"}},"y":{"field":"v","type":"quantitative","scale":{"domain":[0,5],"nice":false},"axis":{"values":[0,1,2,3,4,5],"title":"RMSD (Å)"}}},
    "layer":[
     {"data":{"name":"B1"},"mark":{"type":"line","clip":true},"encoding":{"color":{"datum":"RMSD-1","type":"nominal","scale":{"domain":["RMSD-1","RMSD-2","RMSD-3"],"range":["#1f77b4","#ff7f0e","#2ca02c"]},"legend":{"title":null}}}},
     {"data":{"name":"B2"},"mark":{"type":"line","clip":true},"encoding":{"color":{"datum":"RMSD-2","type":"nominal"}}},
     {"data":{"name":"B3"},"mark":{"type":"line","clip":true},"encoding":{"color":{"datum":"RMSD-3","type":"nominal"}}}
    ]}]},
  {"title":{"text":"C","anchor":"start","frame":"bounds","font":"Liberation Sans","fontSize":20,"fontWeight":"bold","color":"#000000","dx":0,"dy":18,"offset":0},"resolve":{"scale":{"color":"independent"},"legend":{"color":"independent"}},
   "vconcat":[{"width":360,"height":194,"title":{"text":"α7 ECD bound RMSD","dy":13},
    "encoding":{"x":{"field":"t","type":"quantitative","scale":{"domain":[-25,525],"nice":false,"zero":false},"axis":{"values":[0,100,200,300,400,500],"title":"Time (ns)"}},"y":{"field":"v","type":"quantitative","scale":{"domain":[0,5],"nice":false},"axis":{"values":[0,1,2,3,4,5],"title":"RMSD (Å)"}}},
    "layer":[
     {"data":{"name":"C1"},"mark":{"type":"line","clip":true},"encoding":{"color":{"datum":"RMSD-1","type":"nominal","scale":{"domain":["RMSD-1","RMSD-2","RMSD-3"],"range":["#1f77b4","#ff7f0e","#2ca02c"]},"legend":{"title":null}}}},
     {"data":{"name":"C2"},"mark":{"type":"line","clip":true},"encoding":{"color":{"datum":"RMSD-2","type":"nominal"}}},
     {"data":{"name":"C3"},"mark":{"type":"line","clip":true},"encoding":{"color":{"datum":"RMSD-3","type":"nominal"}}}
    ]}]}
  ]},
 {"spacing":25,"resolve":{"scale":{"color":"independent"},"legend":{"color":"independent"}},
  "hconcat":[
  {"title":{"text":"D","anchor":"start","frame":"bounds","font":"Liberation Sans","fontSize":20,"fontWeight":"bold","color":"#000000","dx":-12,"dy":18,"offset":0},"resolve":{"scale":{"color":"independent"},"legend":{"color":"independent"}},
   "vconcat":[{"width":360,"height":193,"title":{"text":"AChBP unbound RMSD","dy":10},
    "encoding":{"x":{"field":"t","type":"quantitative","scale":{"domain":[-25,525],"nice":false,"zero":false},"axis":{"values":[0,100,200,300,400,500],"title":"Time (ns)"}},"y":{"field":"v","type":"quantitative","scale":{"domain":[0,5],"nice":false},"axis":{"values":[0,1,2,3,4,5],"title":"RMSD (Å)"}}},
    "layer":[
     {"data":{"name":"D1"},"mark":{"type":"line","clip":true},"encoding":{"color":{"datum":"RMSD-1","type":"nominal","scale":{"domain":["RMSD-1","RMSD-2","RMSD-3"],"range":["#1f77b4","#ff7f0e","#2ca02c"]},"legend":{"title":null}}}},
     {"data":{"name":"D2"},"mark":{"type":"line","clip":true},"encoding":{"color":{"datum":"RMSD-2","type":"nominal"}}},
     {"data":{"name":"D3"},"mark":{"type":"line","clip":true},"encoding":{"color":{"datum":"RMSD-3","type":"nominal"}}}
    ]}]},
  {"title":{"text":"E","anchor":"start","frame":"bounds","font":"Liberation Sans","fontSize":20,"fontWeight":"bold","color":"#000000","dx":0,"dy":18,"offset":0},"resolve":{"scale":{"color":"independent"},"legend":{"color":"independent"}},
   "vconcat":[{"width":359,"height":193,"title":{"text":"α7-AChBP unbound RMSD","dy":10},
    "encoding":{"x":{"field":"t","type":"quantitative","scale":{"domain":[-25,525],"nice":false,"zero":false},"axis":{"values":[0,100,200,300,400,500],"title":"Time (ns)"}},"y":{"field":"v","type":"quantitative","scale":{"domain":[0,5],"nice":false},"axis":{"values":[0,1,2,3,4,5],"title":"RMSD (Å)"}}},
    "layer":[
     {"data":{"name":"E1"},"mark":{"type":"line","clip":true},"encoding":{"color":{"datum":"RMSD-1","type":"nominal","scale":{"domain":["RMSD-1","RMSD-2","RMSD-3"],"range":["#1f77b4","#ff7f0e","#2ca02c"]},"legend":{"title":null}}}},
     {"data":{"name":"E2"},"mark":{"type":"line","clip":true},"encoding":{"color":{"datum":"RMSD-2","type":"nominal"}}},
     {"data":{"name":"E3"},"mark":{"type":"line","clip":true},"encoding":{"color":{"datum":"RMSD-3","type":"nominal"}}}
    ]}]},
  {"title":{"text":"F","anchor":"start","frame":"bounds","font":"Liberation Sans","fontSize":20,"fontWeight":"bold","color":"#000000","dx":0,"dy":18,"offset":0},"resolve":{"scale":{"color":"independent"},"legend":{"color":"independent"}},
   "vconcat":[{"width":360,"height":193,"title":{"text":"α7 ECD unbound RMSD","dy":10},
    "encoding":{"x":{"field":"t","type":"quantitative","scale":{"domain":[-25,525],"nice":false,"zero":false},"axis":{"values":[0,100,200,300,400,500],"title":"Time (ns)"}},"y":{"field":"v","type":"quantitative","scale":{"domain":[0,5],"nice":false},"axis":{"values":[0,1,2,3,4,5],"title":"RMSD (Å)"}}},
    "layer":[
     {"data":{"name":"F1"},"mark":{"type":"line","clip":true},"encoding":{"color":{"datum":"RMSD-1","type":"nominal","scale":{"domain":["RMSD-1","RMSD-2","RMSD-3"],"range":["#1f77b4","#ff7f0e","#2ca02c"]},"legend":{"title":null}}}},
     {"data":{"name":"F2"},"mark":{"type":"line","clip":true},"encoding":{"color":{"datum":"RMSD-2","type":"nominal"}}},
     {"data":{"name":"F3"},"mark":{"type":"line","clip":true},"encoding":{"color":{"datum":"RMSD-3","type":"nominal"}}}
    ]}]}
  ]}
 ]},
{"spacing":13,"resolve":{"scale":{"color":"independent"},"legend":{"color":"independent"}},
 "hconcat":[
 {"title":{"text":"G","anchor":"start","frame":"bounds","font":"Liberation Sans","fontSize":20,"fontWeight":"bold","color":"#000000","dx":2,"dy":-19,"offset":0},"resolve":{"scale":{"color":"independent"},"legend":{"color":"independent"}},
  "vconcat":[{"width":315,"height":184,"title":{"text":"AChBP bound versus unbound RMSF","fontSize":23,"dy":-1},
   "encoding":{"x":{"field":"r","type":"quantitative","scale":{"domain":[-9.6,223.6],"nice":false,"zero":false},"axis":{"values":[0,50,100,150,200],"title":"Residue"}},"y":{"field":"v","type":"quantitative","scale":{"domain":[0,5],"nice":false},"axis":{"values":[0,1,2,3,4,5],"title":"RMSF (Å)"}}},
   "layer":[
    {"data":{"name":"G1"},"mark":{"type":"line","clip":true},"encoding":{"color":{"datum":"Bound","type":"nominal","scale":{"domain":["Bound","Unbound"],"range":["#1f77b4","#ff7f0e"]},"legend":{"title":null,"orient":"top-right","offset":5,"labelFontSize":11.5,"symbolSize":250,"labelOffset":14}}}},
    {"data":{"name":"G2"},"mark":{"type":"line","clip":true},"encoding":{"color":{"datum":"Unbound","type":"nominal"}}}
   ]}]},
 {"title":{"text":"H","anchor":"start","frame":"bounds","font":"Liberation Sans","fontSize":20,"fontWeight":"bold","color":"#000000","dx":0,"dy":-21,"offset":0},"resolve":{"scale":{"color":"independent"},"legend":{"color":"independent"}},
  "vconcat":[{"width":318,"height":184,"title":{"text":"α7-AChBP bound versus unbound RMSF","fontSize":20.5,"dy":-1},
   "encoding":{"x":{"field":"r","type":"quantitative","scale":{"domain":[-9.05,212.05],"nice":false,"zero":false},"axis":{"values":[0,25,50,75,100,125,150,175,200],"title":"Residue"}},"y":{"field":"v","type":"quantitative","scale":{"domain":[0,5],"nice":false},"axis":{"values":[0,1,2,3,4,5],"title":"RMSF (Å)"}}},
   "layer":[
    {"data":{"name":"H1"},"mark":{"type":"line","clip":true},"encoding":{"color":{"datum":"Bound","type":"nominal","scale":{"domain":["Bound","Unbound"],"range":["#1f77b4","#ff7f0e"]},"legend":{"title":null,"orient":"top-right","offset":5,"labelFontSize":11.5,"symbolSize":250,"labelOffset":14}}}},
    {"data":{"name":"H2"},"mark":{"type":"line","clip":true},"encoding":{"color":{"datum":"Unbound","type":"nominal"}}}
   ]}]},
 {"title":{"text":"I","anchor":"start","frame":"bounds","font":"Liberation Sans","fontSize":20,"fontWeight":"bold","color":"#000000","dx":11,"dy":-16,"offset":0},"resolve":{"scale":{"color":"independent"},"legend":{"color":"independent"}},
  "vconcat":[{"width":312,"height":184,"title":{"text":"α7 ECD bound versus unbound RMSF","fontSize":22,"dy":-1},
   "encoding":{"x":{"field":"r","type":"quantitative","scale":{"domain":[-9.15,214.15],"nice":false,"zero":false},"axis":{"values":[0,25,50,75,100,125,150,175,200],"title":"Residue"}},"y":{"field":"v","type":"quantitative","scale":{"domain":[0,5],"nice":false},"axis":{"values":[0,1,2,3,4,5],"title":"RMSF (Å)"}}},
   "layer":[
    {"data":{"name":"I1"},"mark":{"type":"line","clip":true},"encoding":{"color":{"datum":"Bound","type":"nominal","scale":{"domain":["Bound","Unbound"],"range":["#1f77b4","#ff7f0e"]},"legend":{"title":null,"orient":"top-right","offset":5,"labelFontSize":11.5,"symbolSize":250,"labelOffset":14}}}},
    {"data":{"name":"I2"},"mark":{"type":"line","clip":true},"encoding":{"color":{"datum":"Unbound","type":"nominal"}}}
   ]}]}
 ]}
]
}
